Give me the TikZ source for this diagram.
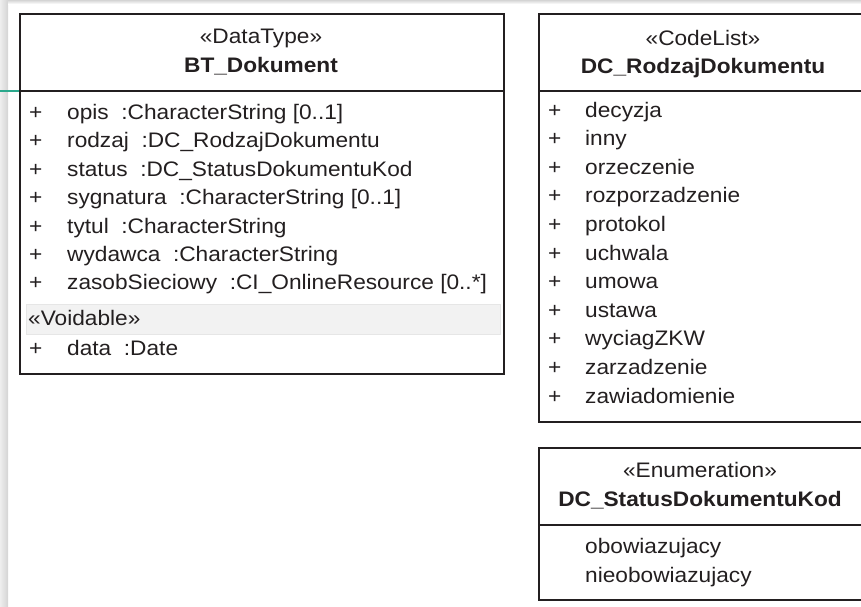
\documentclass[tikz,border=0pt]{standalone}
\usepackage{fontspec}
\setmainfont{Liberation Sans}[FakeStretch=1.08]
\definecolor{UmlInk}{HTML}{231F20}
\definecolor{UmlBand}{HTML}{F2F2F2}
\definecolor{UmlBandLine}{HTML}{E6E6E6}
\definecolor{PageShadow}{HTML}{D4D4D4}
\definecolor{EdgeTeal}{HTML}{2BA88C}
\begin{document}
\begin{tikzpicture}[x=1pt, y=-1pt,
        umlbox/.style={draw=UmlInk, line width=1.8pt, fill=white, anchor=north west, inner sep=0pt},
        sep/.style={draw=UmlInk, line width=1.8pt},
        item/.style={anchor=base west, inner sep=0pt, text=UmlInk, font=\fontsize{21}{28}\selectfont},
        plus/.style={item},
        stereo/.style={anchor=base, inner sep=0pt, text=UmlInk, font=\fontsize{21}{28}\selectfont},
        title/.style={anchor=base, inner sep=0pt, text=UmlInk, font=\fontsize{21}{28}\selectfont\bfseries}
    ]
        \useasboundingbox (0,0) rectangle (861,606);
        % page shadow
        \shade[left color=PageShadow!40, right color=PageShadow] (0,0) rectangle (8,606);
        \shade[top color=PageShadow, bottom color=white] (8,0) rectangle (861,4);
        \draw[EdgeTeal, line width=1.5pt] (0,91) -- (19,91);

        % DataType box
        \node[umlbox, minimum width=484pt, minimum height=360pt] (dokument) at (19,13) {};
        \draw[sep] (19,91) -- (503,91);
        \node[stereo] (dokumentStereo) at (261,43) {«DataType»};
        \node[title] (dokumentTitle) at (261,72) {BT\_Dokument};
        \node[plus] (p1) at (29,119) {+};
        \node[item] (opis) at (67,119) {opis~ :CharacterString [0..1]};
        \node[plus] (p2) at (29,147.5) {+};
        \node[item] (rodzaj) at (67,147.5) {rodzaj~ :DC\_RodzajDokumentu};
        \node[plus] (p3) at (29,176) {+};
        \node[item] (status) at (67,176) {status~ :DC\_StatusDokumentuKod};
        \node[plus] (p4) at (29,204.5) {+};
        \node[item] (sygnatura) at (67,204.5) {sygnatura~ :CharacterString [0..1]};
        \node[plus] (p5) at (29,233) {+};
        \node[item] (tytul) at (67,233) {tytul~ :CharacterString};
        \node[plus] (p6) at (29,261) {+};
        \node[item] (wydawca) at (67,261) {wydawca~ :CharacterString};
        \node[plus] (p7) at (29,289.5) {+};
        \node[item] (zasob) at (67,289.5) {zasobSieciowy~ :CI\_OnlineResource [0..*]};
        \node[draw=UmlBandLine, fill=UmlBand, line width=1pt, anchor=north west, minimum width=474pt, minimum height=30pt, inner sep=0pt] (voidBand) at (26,304) {};
        \node[item] (voidable) at (28,325) {«Voidable»};
        \node[plus] (p8) at (29,355) {+};
        \node[item] (data) at (67,355) {data~ :Date};

        % CodeList box
        \node[umlbox, minimum width=332pt, minimum height=408pt] (rodzajBox) at (538,13) {};
        \draw[sep] (538,91) -- (870,91);
        \node[stereo] (rodzajStereo) at (703,45) {«CodeList»};
        \node[title] (rodzajTitle) at (703,73) {DC\_RodzajDokumentu};
        \node[plus] (q1) at (548,117) {+};
        \node[item] (decyzja) at (585,117) {decyzja};
        \node[plus] (q2) at (548,145.6) {+};
        \node[item] (inny) at (585,145.6) {inny};
        \node[plus] (q3) at (548,174.2) {+};
        \node[item] (orzeczenie) at (585,174.2) {orzeczenie};
        \node[plus] (q4) at (548,202.8) {+};
        \node[item] (rozporzadzenie) at (585,202.8) {rozporzadzenie};
        \node[plus] (q5) at (548,231.4) {+};
        \node[item] (protokol) at (585,231.4) {protokol};
        \node[plus] (q6) at (548,260) {+};
        \node[item] (uchwala) at (585,260) {uchwala};
        \node[plus] (q7) at (548,288.6) {+};
        \node[item] (umowa) at (585,288.6) {umowa};
        \node[plus] (q8) at (548,317.2) {+};
        \node[item] (ustawa) at (585,317.2) {ustawa};
        \node[plus] (q9) at (548,345.8) {+};
        \node[item] (wyciag) at (585,345.8) {wyciagZKW};
        \node[plus] (q10) at (548,374.4) {+};
        \node[item] (zarzadzenie) at (585,374.4) {zarzadzenie};
        \node[plus] (q11) at (548,403) {+};
        \node[item] (zawiadomienie) at (585,403) {zawiadomienie};

        % Enumeration box
        \node[umlbox, minimum width=332pt, minimum height=152pt] (statusBox) at (538,447) {};
        \draw[sep] (538,525) -- (870,525);
        \node[stereo] (statusStereo) at (700,477) {«Enumeration»};
        \node[title] (statusTitle) at (700,506) {DC\_StatusDokumentuKod};
        \node[item] (obow) at (585,553) {obowiazujacy};
        \node[item] (nieobow) at (585,582) {nieobowiazujacy};
    \end{tikzpicture}
\end{document}
